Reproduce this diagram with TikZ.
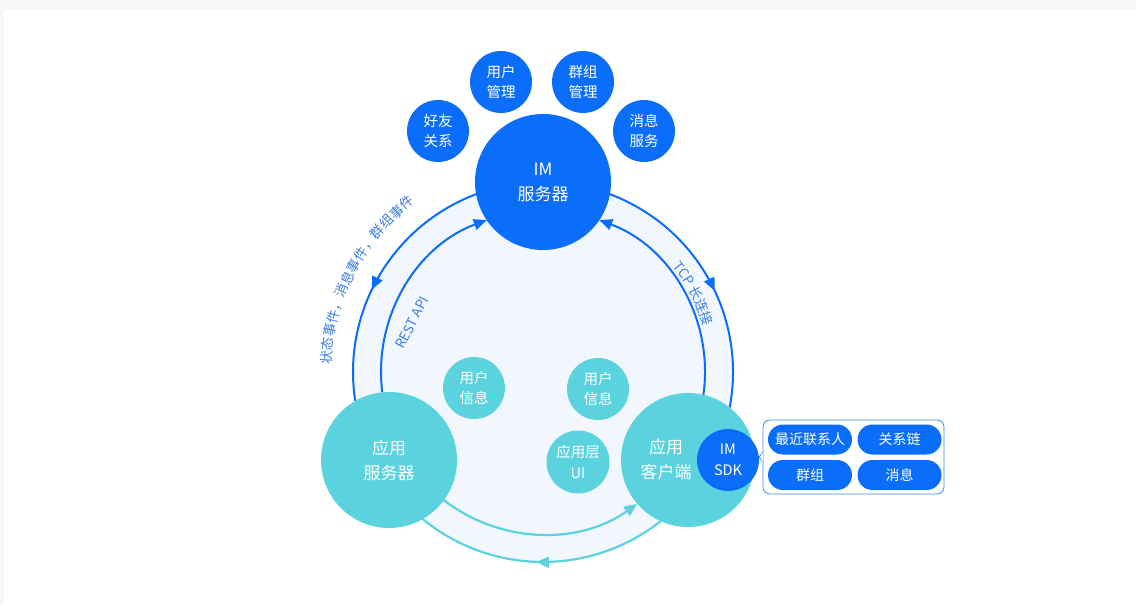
\documentclass[tikz,border=0pt]{standalone}
\usepackage{fontspec}
\setmainfont{Noto Sans CJK SC}
\usetikzlibrary{arrows.meta,decorations.markings,decorations.text}
\definecolor{imblue}{HTML}{0A6EFA}
\definecolor{apteal}{HTML}{5BD3DF}
\definecolor{ringbg}{HTML}{F2F7FE}
\definecolor{tagblue}{HTML}{3C7FE6}
\definecolor{kitline}{HTML}{3D8BFF}

\begin{document}
\begin{tikzpicture}[x=1pt,y=1pt,
  bigball/.style={circle, minimum size=136pt, inner sep=0pt, align=center, text=white, font=\fontsize{17}{25}\selectfont},
  ball/.style={circle, minimum size=62pt, inner sep=0pt, align=center, text=white, font=\fontsize{14.5}{20.5}\selectfont},
  pill/.style={rounded corners=15pt, fill=imblue, minimum width=84pt, minimum height=30pt, inner sep=0pt, text=white, font=\fontsize{14}{16}\selectfont},
  tag/.style={text=tagblue, font=\fontsize{13.5}{16}\selectfont, inner sep=0pt},
  curvetag/.style={decorate, decoration={text along path, text align=center, text={|\fontsize{13.5}{16}\selectfont\color{tagblue}|#1}}},
  headarrow/.style={-{Triangle[length=13pt,width=11pt]}},
  midhead/.style={postaction={decorate}, decoration={markings, mark=at position #1 with {\arrow{Triangle[length=13pt,width=11pt]}}}},
  ring/.style={line width=2pt, imblue},
  tealring/.style={line width=2.2pt, apteal}]
% page
\fill[black!3] (0,0) rectangle (1136,606);
\fill[white] (4,0) rectangle (1136,596);
\useasboundingbox (0,0) rectangle (1136,606);

\coordinate (hub) at (543,234);
\fill[ringbg] (hub) circle[radius=190pt];

% blue links to the IM server
\draw[ring, midhead=0.56] ([shift={(110.6:190pt)}]hub) arc[start angle=110.6, end angle=188.7, radius=190pt];
\draw[ring, headarrow] ([shift={(187.2:162pt)}]hub) arc[start angle=187.2, end angle=110.3, radius=162pt];
\draw[ring, midhead=0.55] ([shift={(69.4:190pt)}]hub) arc[start angle=69.4, end angle=-10.8, radius=190pt];
\draw[ring, headarrow] ([shift={(-8.1:162pt)}]hub) arc[start angle=-8.1, end angle=69.7, radius=162pt];
% teal links between the apps
\draw[tealring, headarrow] ([shift={(232.2:162pt)}]hub) arc[start angle=232.2, end angle=305.5, radius=162pt];
\draw[tealring, midhead=0.52] ([shift={(308.2:190pt)}]hub) arc[start angle=308.2, end angle=230.7, radius=190pt];

\path[curvetag={状态事件，消息事件，群组事件}] ([shift={(181:212pt)}]hub) arc[start angle=181, end angle=124, radius=212pt];
\path[curvetag={TCP 长连接}] ([shift={(50:167pt)}]hub) arc[start angle=50, end angle=5, radius=167pt];
\node[tag, rotate=63] (rest) at (412,283.5) {REST API};

% server side
\node[bigball, fill=imblue] (im) at (543,424) {IM\\服务器};
\node[ball, fill=imblue] (friend) at (438,475) {好友\\关系};
\node[ball, fill=imblue] (usermgr) at (501,524) {用户\\管理};
\node[ball, fill=imblue] (groupmgr) at (583,524) {群组\\管理};
\node[ball, fill=imblue] (msgsvc) at (644,475) {消息\\服务};

% app side
\node[bigball, fill=apteal] (appsrv) at (389,146) {应用\\服务器};
\node[bigball, fill=apteal, minimum size=134pt] (appcli) at (688,146) {};
\node[align=center, text=white, font=\fontsize{17}{25}\selectfont] (clitext) at ([xshift=-22pt]appcli.center) {应用\\客户端};
\node[ball, fill=imblue] (sdk) at (728,146) {IM\\SDK};
\node[ball, fill=apteal, minimum size=63pt] (appui) at (578,144) {应用层\\UI};
\node[ball, fill=apteal] (info1) at (474,218) {用户\\信息};
\node[ball, fill=apteal] (info2) at (598,217) {用户\\信息};

% SDK parts
\node[draw=kitline, line width=0.8pt, fill=white, rounded corners=7pt, minimum width=181pt, minimum height=74pt] (kit) at (853.5,149) {};
\filldraw[draw=kitline, line width=0.8pt, fill=white] ([yshift=-4.5pt]kit.west) -- ++(-3.5,4.5) -- ++(3.5,4.5);
\fill[white] ([shift={(-0.6,-4)}]kit.west) rectangle ([shift={(0.6,4)}]kit.west);
\node[pill] (recent) at (810,166.5) {最近联系人};
\node[pill] (chain) at (899.5,166.5) {关系链};
\node[pill] (group) at (810,131) {群组};
\node[pill] (msg) at (899.5,131) {消息};
\end{tikzpicture}
\end{document}
